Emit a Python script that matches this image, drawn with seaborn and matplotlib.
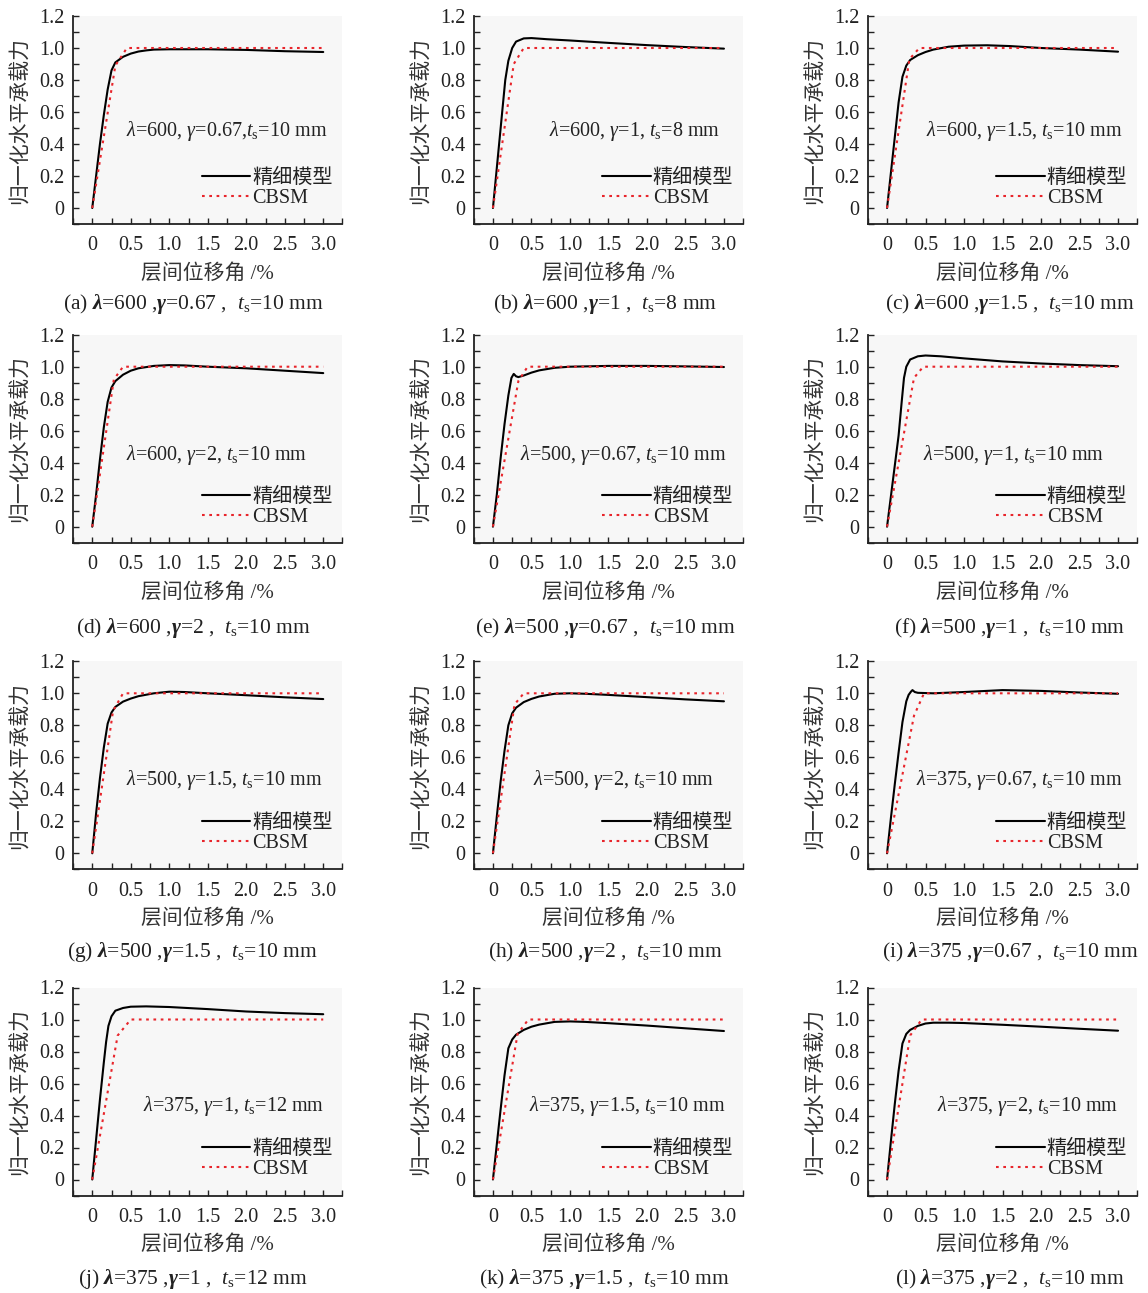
import numpy as np
import pandas as pd
import matplotlib
matplotlib.use("Agg")
import matplotlib.pyplot as plt
from matplotlib.ticker import MultipleLocator
import seaborn as sns

# ---------------- data ----------------
labels_panel = ["a", "b", "c", "d", "e", "f", "g", "h", "i", "j", "k", "l"]
lam_vals = ["600", "600", "600", "600", "500", "500", "500", "500", "375", "375", "375", "375"]
gam_vals = ["0.67", "1", "1.5", "2", "0.67", "1", "1.5", "2", "0.67", "1", "1.5", "2"]
ts_vals = ["10", "8", "10", "10", "10", "10", "10", "10", "10", "12", "10", "10"]

a_fine_x = [0, 0.05, 0.1, 0.15, 0.2, 0.25, 0.3, 0.4, 0.5, 0.6, 0.7, 0.8, 1.0, 1.5, 2.0, 2.5, 3.0]
a_fine_y = [0, 0.2, 0.4, 0.58, 0.74, 0.86, 0.91, 0.945, 0.965, 0.978, 0.985, 0.99, 0.992, 0.992, 0.988, 0.98, 0.975]
a_cbsm_x = [0, 0.3, 0.45, 3.0]
a_cbsm_y = [0, 0.89, 1.0, 1.0]

b_fine_x = [0, 0.04, 0.08, 0.12, 0.16, 0.2, 0.25, 0.3, 0.4, 0.5, 0.7, 1.0, 1.5, 2.0, 2.5, 3.0]
b_fine_y = [0, 0.2, 0.4, 0.6, 0.8, 0.92, 1.0, 1.04, 1.06, 1.062, 1.055, 1.047, 1.032, 1.018, 1.006, 0.996]
b_cbsm_x = [0, 0.27, 0.4, 3.0]
b_cbsm_y = [0, 0.9, 1.0, 1.0]

c_fine_x = [0, 0.05, 0.1, 0.15, 0.2, 0.25, 0.3, 0.4, 0.5, 0.6, 0.8, 1.0, 1.3, 1.6, 2.0, 2.5, 3.0]
c_fine_y = [0, 0.22, 0.44, 0.66, 0.82, 0.89, 0.925, 0.955, 0.975, 0.99, 1.008, 1.015, 1.017, 1.012, 1.0, 0.99, 0.977]
c_cbsm_x = [0, 0.29, 0.42, 3.0]
c_cbsm_y = [0, 0.93, 1.0, 1.0]

d_fine_x = [0, 0.05, 0.1, 0.15, 0.2, 0.25, 0.3, 0.4, 0.5, 0.6, 0.8, 1.0, 1.2, 1.5, 2.0, 2.5, 3.0]
d_fine_y = [0, 0.2, 0.42, 0.62, 0.78, 0.87, 0.91, 0.95, 0.975, 0.99, 1.005, 1.01, 1.008, 1.0, 0.99, 0.975, 0.96]
d_cbsm_x = [0, 0.28, 0.4, 3.0]
d_cbsm_y = [0, 0.92, 1.0, 1.0]

e_fine_x = [0, 0.05, 0.1, 0.15, 0.2, 0.24, 0.27, 0.3, 0.33, 0.4, 0.5, 0.6, 0.8, 1.0, 1.5, 2.0, 2.5, 3.0]
e_fine_y = [0, 0.2, 0.43, 0.64, 0.82, 0.93, 0.955, 0.94, 0.935, 0.945, 0.963, 0.977, 0.993, 1.0, 1.005, 1.005, 1.002, 0.998]
e_cbsm_x = [0, 0.33, 0.45, 3.0]
e_cbsm_y = [0, 0.91, 1.0, 1.0]

f_fine_x = [0, 0.05, 0.1, 0.15, 0.19, 0.22, 0.25, 0.3, 0.4, 0.5, 0.7, 1.0, 1.5, 2.0, 2.5, 3.0]
f_fine_y = [0, 0.19, 0.38, 0.57, 0.78, 0.93, 1.0, 1.045, 1.065, 1.07, 1.065, 1.052, 1.033, 1.02, 1.01, 1.003]
f_cbsm_x = [0, 0.35, 0.47, 3.0]
f_cbsm_y = [0, 0.93, 1.0, 1.0]

g_fine_x = [0, 0.05, 0.1, 0.15, 0.2, 0.25, 0.3, 0.4, 0.5, 0.6, 0.8, 1.0, 1.2, 1.5, 2.0, 2.5, 3.0]
g_fine_y = [0, 0.25, 0.47, 0.66, 0.81, 0.88, 0.915, 0.948, 0.967, 0.982, 1.0, 1.01, 1.008, 1.0, 0.988, 0.975, 0.964]
g_cbsm_x = [0, 0.27, 0.4, 3.0]
g_cbsm_y = [0, 0.89, 1.0, 1.0]

h_fine_x = [0, 0.05, 0.1, 0.15, 0.2, 0.25, 0.3, 0.4, 0.5, 0.6, 0.8, 1.0, 1.2, 1.5, 2.0, 2.5, 3.0]
h_fine_y = [0, 0.23, 0.45, 0.64, 0.8, 0.875, 0.91, 0.945, 0.965, 0.98, 0.997, 1.0, 0.997, 0.99, 0.976, 0.962, 0.95]
h_cbsm_x = [0, 0.28, 0.4, 3.0]
h_cbsm_y = [0, 0.93, 1.0, 1.0]

i_fine_x = [0, 0.05, 0.1, 0.15, 0.2, 0.25, 0.28, 0.31, 0.33, 0.36, 0.4, 0.6, 1.0, 1.5, 2.0, 2.5, 3.0]
i_fine_y = [0, 0.22, 0.43, 0.63, 0.82, 0.95, 0.99, 1.01, 1.02, 1.008, 1.003, 1.0, 1.008, 1.02, 1.015, 1.005, 0.997]
i_cbsm_x = [0, 0.35, 0.48, 3.0]
i_cbsm_y = [0, 0.86, 1.0, 1.0]

j_fine_x = [0, 0.05, 0.1, 0.15, 0.18, 0.21, 0.25, 0.3, 0.4, 0.5, 0.7, 1.0, 1.5, 2.0, 2.5, 3.0]
j_fine_y = [0, 0.25, 0.5, 0.73, 0.86, 0.96, 1.02, 1.055, 1.072, 1.08, 1.082, 1.078, 1.065, 1.05, 1.04, 1.033]
j_cbsm_x = [0, 0.33, 0.5, 3.0]
j_cbsm_y = [0, 0.9, 1.0, 1.0]

k_fine_x = [0, 0.05, 0.1, 0.15, 0.2, 0.25, 0.3, 0.4, 0.5, 0.6, 0.8, 1.0, 1.2, 1.5, 2.0, 2.5, 3.0]
k_fine_y = [0, 0.22, 0.44, 0.65, 0.82, 0.875, 0.905, 0.935, 0.955, 0.968, 0.985, 0.988, 0.985, 0.977, 0.962, 0.945, 0.928]
k_cbsm_x = [0, 0.32, 0.46, 3.0]
k_cbsm_y = [0, 0.91, 1.0, 1.0]

l_fine_x = [0, 0.05, 0.1, 0.15, 0.2, 0.25, 0.3, 0.4, 0.5, 0.6, 0.8, 1.0, 1.5, 2.0, 2.5, 3.0]
l_fine_y = [0, 0.24, 0.47, 0.68, 0.85, 0.91, 0.935, 0.96, 0.975, 0.98, 0.98, 0.978, 0.967, 0.955, 0.942, 0.93]
l_cbsm_x = [0, 0.3, 0.45, 3.0]
l_cbsm_y = [0, 0.9, 1.0, 1.0]

fine_x = [a_fine_x, b_fine_x, c_fine_x, d_fine_x, e_fine_x, f_fine_x,
          g_fine_x, h_fine_x, i_fine_x, j_fine_x, k_fine_x, l_fine_x]
fine_y = [a_fine_y, b_fine_y, c_fine_y, d_fine_y, e_fine_y, f_fine_y,
          g_fine_y, h_fine_y, i_fine_y, j_fine_y, k_fine_y, l_fine_y]
cbsm_x = [a_cbsm_x, b_cbsm_x, c_cbsm_x, d_cbsm_x, e_cbsm_x, f_cbsm_x,
          g_cbsm_x, h_cbsm_x, i_cbsm_x, j_cbsm_x, k_cbsm_x, l_cbsm_x]
cbsm_y = [a_cbsm_y, b_cbsm_y, c_cbsm_y, d_cbsm_y, e_cbsm_y, f_cbsm_y,
          g_cbsm_y, h_cbsm_y, i_cbsm_y, j_cbsm_y, k_cbsm_y, l_cbsm_y]

xticks = [0, 0.5, 1.0, 1.5, 2.0, 2.5, 3.0]
xticklabels = ["0", "0.5", "1.0", "1.5", "2.0", "2.5", "3.0"]
yticks = [0, 0.2, 0.4, 0.6, 0.8, 1.0, 1.2]
yticklabels = ["0", "0.2", "0.4", "0.6", "0.8", "1.0", "1.2"]

xlabel = "层间位移角 /%"
ylabel = "归一化水平承载力"
legend_fine = "精细模型"
legend_cbsm = "CBSM"

# annotation x-centres (data units) per panel
ann_x = [1.74, 1.84, 1.78, 1.61, 1.69, 1.64, 1.71, 1.70, 1.72, 1.83, 1.74, 1.83]
ann_y = [0.48, 0.48, 0.48, 0.45, 0.45, 0.45, 0.46, 0.46, 0.46, 0.46, 0.46, 0.46]

# ---------------- style ----------------
sns.set_theme(style="ticks")
FAM = ["Liberation Serif", "Noto Sans CJK SC", "DejaVu Sans"]
plt.rcParams["font.family"] = FAM
plt.rcParams["mathtext.fontset"] = "custom"
plt.rcParams["mathtext.rm"] = "Liberation Serif"
plt.rcParams["mathtext.it"] = "Liberation Serif:italic"
plt.rcParams["mathtext.bf"] = "Liberation Serif:bold"
BOLD_CMD = r"\mathbf"
try:
    plt.rcParams["mathtext.bfit"] = "Liberation Serif:italic:bold"
    BOLD_CMD = r"\mathbfit"
except Exception:
    pass
plt.rcParams["axes.unicode_minus"] = False

W, H = 1148, 1293
fig = plt.figure(figsize=(W / 100, H / 100), dpi=100)

col_left = [73, 473.7, 867.8]
row_top = [16, 334.7, 661.3, 987.5]
ax_w, ax_h = 269.5, 208
cap_x = [193, 605, 1010]
cap_y = [304, 628, 952, 1279]

for idx in range(12):
    r, c = divmod(idx, 3)
    left = col_left[c]
    top = row_top[r]
    ax = fig.add_axes([left / W, 1 - (top + ax_h) / H, ax_w / W, ax_h / H])
    ax.set_facecolor("#f7f7f7")

    df_f = pd.DataFrame({"x": fine_x[idx], "y": fine_y[idx]})
    df_c = pd.DataFrame({"x": cbsm_x[idx], "y": cbsm_y[idx]})
    sns.lineplot(data=df_f, x="x", y="y", ax=ax, color="black", lw=1.5,
                 estimator=None, sort=False, label=legend_fine)
    sns.lineplot(data=df_c, x="x", y="y", ax=ax, color="#e8252b", lw=1.5,
                 linestyle=(0, (1.3, 2.2)), estimator=None, sort=False, label=legend_cbsm)

    ax.set_xlim(-0.25, 3.25)
    ax.set_ylim(-0.1, 1.2)
    ax.set_xticks(xticks)
    ax.set_xticklabels(xticklabels)
    ax.set_yticks(yticks)
    ax.set_yticklabels(yticklabels)
    ax.xaxis.set_minor_locator(MultipleLocator(0.25))
    ax.yaxis.set_minor_locator(MultipleLocator(0.1))
    ax.tick_params(axis="both", which="both", direction="in", length=4, width=1.0,
                   colors="#222222", labelsize=14.5)
    ax.tick_params(axis="x", which="major", pad=9)
    ax.tick_params(axis="y", which="major", pad=6)
    for lab in ax.get_xticklabels() + ax.get_yticklabels():
        lab.set_color("#222222")
    sns.despine(ax=ax)
    for s in ["left", "bottom"]:
        ax.spines[s].set_linewidth(1.3)
        ax.spines[s].set_color("#222222")

    ax.set_xlabel(xlabel, fontsize=15, labelpad=6, color="#333333")
    ax.set_ylabel(ylabel, fontsize=15, labelpad=6, color="#333333")

    sep = ", " if idx != 0 else ","
    ann = (r"$\lambda$=" + lam_vals[idx] + r", $\gamma$=" + gam_vals[idx] + sep
           + r"$t_{\rm s}$=" + ts_vals[idx] + " mm")
    ax.text(ann_x[idx], ann_y[idx], ann, ha="center", va="center", fontsize=14.5, color="#222222")

    leg = ax.legend(loc="lower right", bbox_to_anchor=(3.12, 0.0), bbox_transform=ax.transData,
                    frameon=False, fontsize=14.5, handlelength=2.4, handletextpad=0.1,
                    labelspacing=0.05, borderpad=0.0, borderaxespad=0.0)
    for t in leg.get_texts():
        t.set_color("#222222")

    cap = ("(" + labels_panel[idx] + ") $" + BOLD_CMD + r"{\lambda}$=" + lam_vals[idx]
           + " ,$" + BOLD_CMD + r"{\gamma}$=" + gam_vals[idx]
           + r" ,  $t_{\rm s}$=" + ts_vals[idx] + " mm")
    fig.text(cap_x[c] / W, 1 - cap_y[r] / H, cap, ha="center", va="center", fontsize=15.5, color="#222222")

fig.savefig("out.png", dpi=100, facecolor="white")
